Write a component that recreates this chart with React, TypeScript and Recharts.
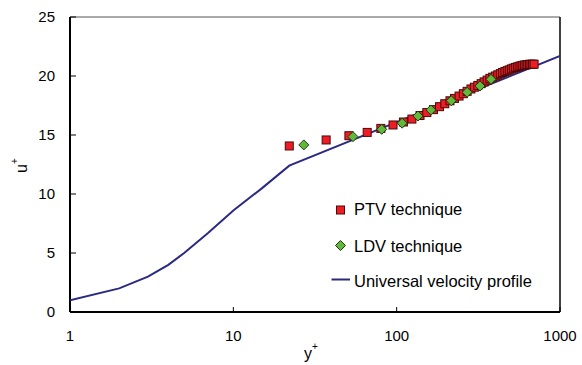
import React from "react";
import { ScatterChart, Scatter, XAxis, YAxis, ReferenceLine } from "recharts";

const xTicks = [1, 10, 100, 1000];
const yTicks = [0, 5, 10, 15, 20, 25];

const seriesNames = ["PTV technique", "LDV technique", "Universal velocity profile"];

const ptvX = [22, 37, 51, 66, 80, 95, 110, 124, 139, 153, 168, 183, 197, 212, 226, 241, 256, 270, 285, 299, 314, 329, 343, 358, 372, 387, 402, 416, 431, 445, 460, 475, 489, 504, 518, 533, 548, 562, 577, 591, 606, 621, 635, 650, 664, 679, 694];
const ptvY = [14.07, 14.58, 14.94, 15.22, 15.56, 15.85, 16.1, 16.35, 16.65, 16.9, 17.15, 17.4, 17.65, 17.9, 18.1, 18.3, 18.5, 18.7, 18.9, 19.05, 19.2, 19.35, 19.5, 19.65, 19.8, 19.9, 20.0, 20.1, 20.2, 20.3, 20.38, 20.45, 20.52, 20.6, 20.66, 20.72, 20.77, 20.82, 20.86, 20.9, 20.93, 20.95, 20.97, 20.99, 21.0, 21.0, 21.0];

const ldvX = [27, 54, 81, 108, 135, 162, 216, 270, 324, 378];
const ldvY = [14.16, 14.86, 15.48, 16.0, 16.61, 17.12, 17.9, 18.62, 19.15, 19.72];

const profileX = [1, 2, 3, 4, 5, 7, 10, 15, 22, 1000];
const profileY = [1, 2, 3, 4, 5, 6.7, 8.6, 10.5, 12.4, 21.7];

const ptvData = ptvX.map((x, i) => ({ x, y: ptvY[i] }));
const ldvData = ldvX.map((x, i) => ({ x, y: ldvY[i] }));
const profileData = profileX.map((x, i) => ({ x, y: profileY[i] }));

const FONT = '"Liberation Sans", Arial, sans-serif';
const RED = "#EE1D25";
const RED_EDGE = "#4A0A0A";
const GREEN = "#62B83A";
const GREEN_EDGE = "#1E3A10";
const NAVY = "#2B2A80";

const Square = (props: any) => {
  const { cx, cy } = props;
  if (cx == null || cy == null) return <g />;
  return <rect x={cx - 4} y={cy - 4} width={8} height={8} fill={RED} stroke={RED_EDGE} strokeWidth={1} />;
};

const Diamond = (props: any) => {
  const { cx, cy } = props;
  if (cx == null || cy == null) return <g />;
  const r = 5;
  return (
    <polygon
      points={`${cx},${cy - r} ${cx + r},${cy} ${cx},${cy + r} ${cx - r},${cy}`}
      fill={GREEN}
      stroke={GREEN_EDGE}
      strokeWidth={1}
    />
  );
};

const NoDot = () => <g />;

const XTitle = (props: any) => {
  const vb = props.viewBox || { x: 70, y: 312, width: 490, height: 53 };
  const cx = vb.x + vb.width / 2;
  return (
    <text x={cx - 4} y={vb.y + 47} fontFamily={FONT} fontSize={16} fill="#000" textAnchor="middle">
      y<tspan fontSize={10} dy={-9}>+</tspan>
    </text>
  );
};

const YTitle = (props: any) => {
  const vb = props.viewBox || { x: 0, y: 17, width: 70, height: 295 };
  const x = 26.5;
  const y = vb.y + vb.height / 2 + 1;
  return (
    <text x={x} y={y} transform={`rotate(-90 ${x} ${y})`} fontFamily={FONT} fontSize={16} fill="#000" textAnchor="middle">
      u<tspan fontSize={10} dy={-9}>+</tspan>
    </text>
  );
};

const LegendBox = () => (
  <svg width={240} height={100} style={{ overflow: "visible", display: "block" }}>
    <rect x={6.5} y={11} width={8} height={8} fill={RED} stroke={RED_EDGE} strokeWidth={1} />
    <text x={24} y={20} fontFamily={FONT} fontSize={16.5} fill="#000">{seriesNames[0]}</text>
    <polygon points="10.5,45.5 15.5,50.5 10.5,55.5 5.5,50.5" fill={GREEN} stroke={GREEN_EDGE} strokeWidth={1} />
    <text x={24} y={56.5} fontFamily={FONT} fontSize={16.5} fill="#000">{seriesNames[1]}</text>
    <line x1={1.5} x2={20} y1={84.5} y2={84.5} stroke={NAVY} strokeWidth={2} />
    <text x={24} y={91.5} fontFamily={FONT} fontSize={16.5} fill="#000">{seriesNames[2]}</text>
  </svg>
);

export default function App() {
  return (
    <div style={{ position: "absolute", left: 0, top: 0, width: 582, height: 365, background: "#fff" }}>
      <ScatterChart width={582} height={365} margin={{ top: 17, right: 22, bottom: 0, left: 0 }}>
        <XAxis
          dataKey="x"
          type="number"
          scale="log"
          domain={[1, 1000]}
          ticks={xTicks}
          allowDataOverflow
          height={53}
          tickSize={-5}
          tickMargin={23}
          axisLine={{ stroke: "#000", strokeWidth: 2 }}
          tickLine={{ stroke: "#000", strokeWidth: 1 }}
          tick={{ fill: "#000", fontSize: 15, fontFamily: FONT }}
          interval={0}
          label={<XTitle />}
        />
        <YAxis
          dataKey="y"
          type="number"
          domain={[0, 25]}
          ticks={yTicks}
          width={70}
          tickSize={-6}
          tickMargin={21}
          axisLine={{ stroke: "#000", strokeWidth: 2 }}
          tickLine={{ stroke: "#000", strokeWidth: 1 }}
          tick={{ fill: "#000", fontSize: 15, fontFamily: FONT }}
          interval={0}
          label={<YTitle />}
        />
        <ReferenceLine y={25} stroke="#555" strokeWidth={1} />
        <ReferenceLine x={1000} stroke="#000" strokeWidth={1.5} />
        <Scatter
          name={seriesNames[2]}
          data={profileData}
          line={{ stroke: NAVY, strokeWidth: 2 }}
          lineType="joint"
          shape={NoDot}
          isAnimationActive={false}
        />
        <Scatter name={seriesNames[0]} data={ptvData} shape={Square} isAnimationActive={false} />
        <Scatter name={seriesNames[1]} data={ldvData} shape={Diamond} isAnimationActive={false} />
      </ScatterChart>
      <div style={{ position: "absolute", left: 330, top: 195, width: 240, height: 100 }}>
        <LegendBox />
      </div>
    </div>
  );
}
